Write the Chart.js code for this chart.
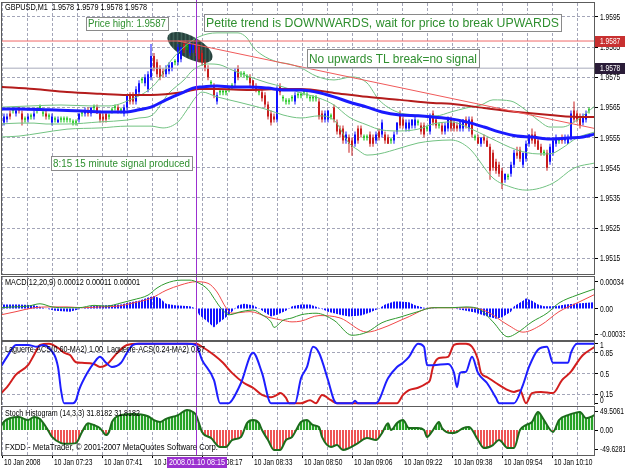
<!DOCTYPE html>
<html>
<head>
<meta charset="utf-8">
<title>GBPUSD,M1</title>
<script src="https://cdn.jsdelivr.net/npm/chart.js@4.4.1/dist/chart.umd.min.js"></script>
<style>
  html, body { margin: 0; padding: 0; background: #fff; }
  #wrap { position: relative; width: 625px; height: 469px; overflow: hidden; background: #fff; }
  #wrap canvas { position: absolute; left: 0; }
</style>
</head>
<body>
<div id="wrap">
  <canvas id="priceChart" width="625" height="276" style="top:0"></canvas>
  <canvas id="macdChart" width="625" height="66" style="top:275px"></canvas>
  <canvas id="lagChart" width="625" height="64" style="top:341px"></canvas>
  <canvas id="stochChart" width="625" height="64" style="top:405px"></canvas>
</div>
<script>
// ---- data (1 minute bars, bar index 0 = left edge) ----
const timeLabels = ['10 Jan 2008', '10 Jan 07:23', '10 Jan 07:41', '10 Jan 07:58', '10 Jan 08:17', '10 Jan 08:33',
  '10 Jan 08:50', '10 Jan 09:06', '10 Jan 09:22', '10 Jan 09:38', '10 Jan 09:54', '10 Jan 10:10'];
const signalBar = 64;
const signalLabel = '2008.01.10 08:15';

const priceLevels = [1.9515, 1.9525, 1.9535, 1.9545, 1.9555, 1.9565, 1.9575, 1.9585, 1.9595];
const macdLevels = [-0.00033, 0, 0.00034];
const lagLevels = [0, 0.15, 0.5, 0.85, 1];
const stochLevels = [-49.6281, 0, 49.5061];
const priceHigh = 1.9587;
const bidPrice = 1.9578;

const open = [1.9560,1.9561,1.9563,1.9564,1.9563,1.9565,1.9563,1.9561,1.9561,1.9562,1.9562,1.9564,1.9565,1.9563,1.9563,1.9562,1.9560,1.9561,1.9560,1.9561,
  1.9561,1.9561,1.9561,1.9560,1.9560,1.9561,1.9563,1.9563,1.9564,1.9563,1.9565,1.9565,1.9563,1.9562,1.9563,1.9562,1.9564,1.9565,1.9565,1.9564,
  1.9563,1.9565,1.9569,1.9569,1.9567,1.9570,1.9574,1.9573,1.9571,1.9575,1.9582,1.9580,1.9578,1.9577,1.9576,1.9577,1.9578,1.9580,1.9580,1.9581,
  1.9586,1.9585,1.9583,1.9584,1.9586,1.9585,1.9583,1.9580,1.9578,1.9573,1.9572,1.9567,1.9570,1.9570,1.9570,1.9571,1.9572,1.9573,1.9578,1.9576,
  1.9576,1.9575,1.9575,1.9574,1.9572,1.9570,1.9570,1.9569,1.9566,1.9563,1.9562,1.9561,1.9572,1.9568,1.9567,1.9567,1.9568,1.9567,1.9569,1.9569,
  1.9570,1.9569,1.9568,1.9568,1.9568,1.9567,1.9563,1.9561,1.9561,1.9562,1.9565,1.9560,1.9558,1.9558,1.9554,1.9555,1.9554,1.9553,1.9558,1.9558,
  1.9555,1.9555,1.9556,1.9555,1.9554,1.9557,1.9556,1.9556,1.9555,1.9554,1.9554,1.9557,1.9563,1.9561,1.9558,1.9558,1.9559,1.9559,1.9560,1.9559,
  1.9559,1.9558,1.9557,1.9563,1.9561,1.9559,1.9559,1.9557,1.9558,1.9561,1.9560,1.9559,1.9558,1.9558,1.9561,1.9558,1.9561,1.9555,1.9555,1.9553,
  1.9555,1.9554,1.9552,1.9550,1.9547,1.9546,1.9544,1.9541,1.9542,1.9543,1.9546,1.9550,1.9551,1.9546,1.9548,1.9553,1.9556,1.9556,1.9554,1.9552,
  1.9550,1.9550,1.9547,1.9550,1.9553,1.9554,1.9555,1.9554,1.9553,1.9555,1.9564,1.9563,1.9562,1.9560,1.9561,1.9564];
const high = [1.9563,1.9563,1.9564,1.9565,1.9565,1.9565,1.9564,1.9562,1.9563,1.9563,1.9564,1.9565,1.9566,1.9564,1.9564,1.9563,1.9563,1.9562,1.9562,1.9562,
  1.9562,1.9562,1.9561,1.9561,1.9561,1.9563,1.9564,1.9565,1.9565,1.9565,1.9566,1.9566,1.9564,1.9563,1.9563,1.9563,1.9565,1.9566,1.9566,1.9565,
  1.9566,1.9569,1.9570,1.9570,1.9572,1.9574,1.9575,1.9576,1.9577,1.9586,1.9583,1.9581,1.9579,1.9578,1.9579,1.9580,1.9580,1.9581,1.9586,1.9585,
  1.9587,1.9586,1.9587,1.9586,1.9587,1.9586,1.9584,1.9581,1.9579,1.9574,1.9573,1.9570,1.9571,1.9571,1.9571,1.9572,1.9573,1.9578,1.9579,1.9577,
  1.9577,1.9576,1.9576,1.9574,1.9573,1.9571,1.9571,1.9570,1.9567,1.9564,1.9563,1.9572,1.9573,1.9569,1.9568,1.9568,1.9569,1.9570,1.9570,1.9570,
  1.9571,1.9570,1.9569,1.9569,1.9569,1.9568,1.9564,1.9564,1.9564,1.9563,1.9566,1.9561,1.9559,1.9559,1.9557,1.9556,1.9555,1.9557,1.9559,1.9559,
  1.9556,1.9556,1.9557,1.9556,1.9557,1.9558,1.9561,1.9557,1.9556,1.9555,1.9557,1.9560,1.9564,1.9562,1.9561,1.9561,1.9561,1.9562,1.9561,1.9560,
  1.9560,1.9559,1.9563,1.9564,1.9562,1.9560,1.9560,1.9560,1.9562,1.9562,1.9561,1.9560,1.9561,1.9561,1.9562,1.9562,1.9562,1.9556,1.9556,1.9555,
  1.9556,1.9555,1.9553,1.9551,1.9548,1.9547,1.9545,1.9543,1.9543,1.9547,1.9551,1.9552,1.9552,1.9550,1.9554,1.9556,1.9558,1.9557,1.9555,1.9553,
  1.9551,1.9551,1.9553,1.9555,1.9556,1.9555,1.9556,1.9556,1.9556,1.9564,1.9567,1.9564,1.9563,1.9563,1.9564,1.9565];
const low = [1.9559,1.9560,1.9561,1.9563,1.9562,1.9563,1.9559,1.9560,1.9560,1.9561,1.9561,1.9563,1.9564,1.9562,1.9561,1.9561,1.9559,1.9560,1.9560,1.9560,
  1.9560,1.9560,1.9560,1.9559,1.9559,1.9560,1.9562,1.9562,1.9562,1.9562,1.9564,1.9563,1.9560,1.9560,1.9560,1.9561,1.9563,1.9564,1.9563,1.9563,
  1.9562,1.9564,1.9566,1.9566,1.9566,1.9569,1.9573,1.9572,1.9570,1.9574,1.9577,1.9575,1.9574,1.9575,1.9575,1.9576,1.9577,1.9579,1.9579,1.9580,
  1.9583,1.9584,1.9582,1.9583,1.9582,1.9580,1.9579,1.9577,1.9574,1.9572,1.9568,1.9566,1.9569,1.9569,1.9569,1.9570,1.9571,1.9572,1.9574,1.9575,
  1.9575,1.9574,1.9572,1.9571,1.9570,1.9569,1.9567,1.9565,1.9561,1.9559,1.9560,1.9560,1.9569,1.9567,1.9566,1.9566,1.9567,1.9566,1.9568,1.9568,
  1.9569,1.9568,1.9567,1.9567,1.9567,1.9561,1.9560,1.9560,1.9560,1.9561,1.9560,1.9556,1.9555,1.9553,1.9553,1.9550,1.9549,1.9552,1.9553,1.9555,
  1.9554,1.9554,1.9552,1.9552,1.9553,1.9554,1.9555,1.9553,1.9553,1.9553,1.9553,1.9556,1.9558,1.9558,1.9557,1.9557,1.9558,1.9558,1.9559,1.9556,
  1.9555,1.9557,1.9556,1.9559,1.9558,1.9558,1.9556,1.9556,1.9557,1.9557,1.9557,1.9557,1.9557,1.9557,1.9558,1.9557,1.9555,1.9554,1.9553,1.9552,
  1.9553,1.9552,1.9541,1.9544,1.9543,1.9542,1.9538,1.9540,1.9541,1.9542,1.9545,1.9548,1.9547,1.9545,1.9547,1.9552,1.9553,1.9552,1.9551,1.9549,
  1.9549,1.9544,1.9546,1.9549,1.9552,1.9553,1.9553,1.9553,1.9553,1.9554,1.9560,1.9560,1.9558,1.9559,1.9560,1.9563];
const close = [1.9562,1.9562,1.9562,1.9564,1.9564,1.9564,1.9561,1.9561,1.9562,1.9562,1.9563,1.9564,1.9565,1.9563,1.9562,1.9562,1.9562,1.9561,1.9561,1.9561,
  1.9561,1.9561,1.9561,1.9560,1.9560,1.9563,1.9563,1.9564,1.9563,1.9565,1.9565,1.9563,1.9561,1.9561,1.9561,1.9562,1.9564,1.9565,1.9564,1.9564,
  1.9565,1.9569,1.9567,1.9567,1.9571,1.9573,1.9574,1.9575,1.9576,1.9582,1.9578,1.9576,1.9575,1.9576,1.9578,1.9579,1.9580,1.9580,1.9585,1.9585,
  1.9584,1.9585,1.9586,1.9586,1.9583,1.9581,1.9580,1.9578,1.9575,1.9573,1.9569,1.9569,1.9570,1.9570,1.9570,1.9571,1.9572,1.9577,1.9575,1.9576,
  1.9576,1.9575,1.9573,1.9572,1.9571,1.9570,1.9568,1.9566,1.9562,1.9560,1.9561,1.9571,1.9570,1.9568,1.9567,1.9567,1.9568,1.9569,1.9569,1.9569,
  1.9570,1.9569,1.9568,1.9568,1.9568,1.9562,1.9561,1.9563,1.9564,1.9562,1.9561,1.9557,1.9556,1.9554,1.9556,1.9553,1.9552,1.9556,1.9554,1.9556,
  1.9555,1.9555,1.9553,1.9553,1.9556,1.9555,1.9560,1.9554,1.9553,1.9554,1.9556,1.9560,1.9559,1.9559,1.9560,1.9560,1.9561,1.9561,1.9560,1.9557,
  1.9556,1.9558,1.9562,1.9560,1.9559,1.9559,1.9557,1.9559,1.9561,1.9558,1.9558,1.9558,1.9560,1.9561,1.9559,1.9561,1.9556,1.9555,1.9553,1.9555,
  1.9554,1.9552,1.9544,1.9545,1.9544,1.9543,1.9540,1.9543,1.9542,1.9546,1.9550,1.9549,1.9548,1.9550,1.9553,1.9556,1.9554,1.9553,1.9551,1.9550,
  1.9550,1.9545,1.9552,1.9554,1.9555,1.9554,1.9554,1.9555,1.9555,1.9563,1.9561,1.9561,1.9559,1.9562,1.9563,1.9564];

// indicator lines, [bar, value]
const maFast = [[-1,1.95645],[5,1.95645],[15,1.95642],[26,1.95638],[35,1.95635],[41,1.95635],[45,1.95642],[49,1.95651],[54,1.95675],[60,1.95701],
  [63,1.95714],[66,1.95718],[71,1.95721],[76,1.95718],[82,1.95718],[88,1.95714],[93,1.95708],[99,1.95708],[104,1.95701],[110,1.95685],[115,1.95668],
  [121,1.95651],[126,1.95635],[132,1.95625],[138,1.95622],[143,1.95618],[149,1.95612],[154,1.95602],[160,1.95585],[165,1.95569],[171,1.95555],
  [176,1.95552],[182,1.95545],[188,1.95549],[193,1.95552],[197,1.95562]];
const maSlow = [[-1,1.95718],[10,1.95711],[21,1.95701],[32,1.95695],[41,1.95691],[49,1.95691],[60,1.95701],[65,1.95711],[71,1.95711],[82,1.95708],
  [93,1.95711],[99,1.95711],[110,1.95698],[121,1.95685],[132,1.95675],[143,1.95665],[149,1.95662],[160,1.95648],[171,1.95635],[182,1.95625],
  [193,1.95618],[197,1.95618]];
const bbUpper = [[-1,1.95651],[9,1.95655],[19,1.95658],[29,1.95655],[35,1.95655],[42,1.95675],[49,1.95714],[52,1.95748],[55,1.95797],[60,1.95850],
  [65,1.95884],[71,1.95897],[78,1.95897],[81,1.95880],[83,1.95850],[86,1.95824],[91,1.95801],[95,1.95794],[99,1.95781],[104,1.95754],[110,1.95741],
  [116,1.95751],[121,1.95731],[125,1.95675],[131,1.95635],[137,1.95625],[144,1.95622],[149,1.95635],[154,1.95648],[159,1.95658],[163,1.95675],
  [169,1.95671],[173,1.95648],[178,1.95608],[182,1.95585],[186,1.95585],[191,1.95608],[197,1.95655]];
const bbMiddle = [[-1,1.95595],[5,1.95598],[10,1.95598],[14,1.95595],[21,1.95595],[32,1.95602],[41,1.95608],[45,1.95615],[49,1.95622],[55,1.95698],
  [60,1.95741],[63,1.95774],[68,1.95794],[72,1.95791],[76,1.95774],[82,1.95751],[88,1.95731],[93,1.95718],[99,1.95698],[105,1.95681],[110,1.95658],
  [115,1.95618],[121,1.95592],[126,1.95575],[132,1.95572],[138,1.95578],[143,1.95595],[149,1.95602],[155,1.95582],[162,1.95549],[171,1.95509],
  [178,1.95496],[182,1.95496],[186,1.95515],[191,1.95549],[197,1.95569]];
const bbLower = [[-1,1.95552],[5,1.95555],[12,1.95565],[21,1.95578],[32,1.95582],[41,1.95588],[49,1.95588],[53,1.95582],[58,1.95602],[61,1.95642],
  [64,1.95685],[66,1.95701],[71,1.95685],[78,1.95668],[82,1.95658],[88,1.95642],[93,1.95625],[99,1.95615],[105,1.95622],[110,1.95608],[115,1.95532],
  [118,1.95509],[121,1.95492],[125,1.95496],[132,1.95515],[138,1.95532],[143,1.95539],[149,1.95542],[155,1.95515],[163,1.95416],[169,1.95386],
  [174,1.95376],[183,1.95399],[190,1.95449],[197,1.95466]];
const trendLine = [[58,1.9587],[197,1.9558]];

const macdMain = [[-1,0.00001],[3,0.00002],[8,0.00003],[12,0.00006],[16,0.00002],[21,0.00001],[25,0.00001],[30,0.00004],[34,0.00003],[39,0.00007],
  [43,0.00011],[48,0.00017],[51,0.00026],[54,0.00032],[59,0.00036],[62,0.00036],[64,0.00034],[68,0.00024],[70,0.00013],[72,0.00002],[75,-0.00008],
  [79,-0.00004],[83,-0.00002],[86,-0.00008],[89,-0.00017],[90,-0.00024],[93,-0.00015],[96,-0.00012],[99,-0.00008],[104,-0.00006],[110,-0.00015],
  [116,-0.00034],[121,-0.0003],[126,-0.00018],[132,-0.00011],[138,-0.00004],[143,0.00001],[149,0.00001],[154,0.00002],[159,-0.00002],[163,-0.00017],
  [168,-0.00036],[171,-0.00031],[176,-0.00017],[181,-0.00006],[185,0.00007],[191,0.00017],[197,0.00025]];
const macdSignal = [[-1,-0.00008],[4,-0.00004],[10,0.00001],[15,0.00002],[21,0.00002],[26,0.00001],[32,0.00002],[38,0.00003],[43,0.00007],[49,0.00013],
  [54,0.00023],[59,0.0003],[64,0.00034],[68,0.00032],[71,0.00021],[74,0.00001],[76,-0.00006],[82,-0.00004],[88,-0.00011],[93,-0.00015],[96,-0.00017],
  [99,-0.00016],[105,-0.00009],[112,-0.00012],[121,-0.0003],[126,-0.00025],[134,-0.00012],[143,0.00001],[149,0.00001],[156,0.00001],[161,-0.00004],
  [168,-0.00021],[173,-0.0003],[179,-0.00021],[185,-0.00004],[191,0.00007],[197,0.00018]];
const macdHist = [[-1,0.00005],[5,0.00005],[10,0.00004],[14,0],[17,-0.00003],[22,-0.00004],[25,-0.00001],[29,0.00003],[34,0.00004],[39,0.00005],
  [42,0.00008],[45,0.0001],[48,0.00014],[50,0.00016],[52,0.00013],[54,0.00006],[57,0.00004],[62,0.00003],[64,0],[65,-0.00008],[68,-0.00017],
  [70,-0.00024],[71,-0.0002],[74,-0.00011],[76,-0.00004],[78,0.00004],[80,0.00006],[83,0.00004],[85,0],[87,-0.00005],[89,-0.0001],[91,-0.00008],
  [94,-0.00003],[96,0.00003],[99,0.00005],[102,0.00005],[105,0.00001],[108,-0.00004],[112,-0.00008],[115,-0.0001],[119,-0.00009],[122,-0.00005],
  [125,0],[127,0.00005],[130,0.00009],[132,0.00009],[135,0.00008],[137,0.00004],[140,0.00001],[145,0],[150,0],[154,-0.00003],[157,-0.00005],
  [160,-0.00009],[164,-0.00013],[166,-0.00011],[169,-0.00004],[170,0.00003],[173,0.0001],[174,0.00013],[176,0.0001],[178,0.00005],[180,0.00003],
  [184,0.00003],[187,0.00005],[190,0.00006],[197,0.00008]];

const lagFast = [[-1,0.62],[1,0.78],[4,0.98],[8,0.98],[11,0.95],[13,0.98],[15,0.93],[18,0.61],[19,0.22],[20,0],[23,0],[24,0.05],[25,0.22],[28,0.53],
  [30,0.68],[32,0.78],[34,0.68],[36,0.61],[39,0.68],[41,0.85],[43,0.98],[45,1],[61,1],[64,0.98],[66,0.73],[70,0.39],[72,0],[75,0],[76,0.05],[79,0.34],
  [83,0.85],[86,0.51],[89,0],[97,0],[99,0.42],[101,0.61],[103,0.95],[105,0.85],[108,0.39],[110,0.05],[111,0],[116,0],[117,0.04],[118,0],[124,0],
  [128,0.42],[131,0.61],[133,0.68],[135,0.78],[138,1],[140,0.95],[141,0.64],[143,0.64],[148,0.66],[150,0.51],[151,0.27],[152,0.51],[154,0.53],
  [156,0.78],[158,0.51],[161,0.34],[164,0.09],[165,0],[170,0],[173,0.31],[175,0.61],[178,0.9],[181,0.95],[183,0.68],[188,0.68],[189,0.85],[191,1],[197,1]];
const lagSlow = [[-1,0.17],[1,0.27],[4,0.48],[8,0.64],[10,0.81],[12,0.98],[15,1],[18,0.93],[20,0.85],[22,0.81],[24,0.69],[26,0.68],[30,0.66],[32,0.61],
  [34,0.64],[38,0.86],[41,0.98],[45,1],[64,1],[66,0.95],[70,0.81],[73,0.68],[76,0.51],[80,0.34],[83,0.26],[86,0.14],[89,0.1],[91,0.14],[92,0.17],
  [94,0.09],[95,0],[99,0],[102,0.05],[104,0],[106,0.14],[109,0.05],[111,0],[131,0],[133,0.14],[135,0.22],[138,0.26],[141,0.34],[142,0.39],[143,0.61],
  [145,0.76],[148,0.78],[150,0.98],[152,1],[154,1],[156,0.95],[158,0.73],[159,0.51],[161,0.44],[164,0.34],[168,0.22],[170,0.19],[172,0.22],[174,0],
  [176,0.17],[179,0.19],[183,0.17],[186,0.39],[189,0.53],[191,0.68],[193,0.81],[197,0.95]];

const stochHist = [[-1,10],[0,22],[2,31],[5,34],[8,26],[10,34],[12,29],[14,8],[15,-5],[16,-18],[19,-34],[21,-36],[24,-34],[26,-5],[28,18],[30,13],
  [32,5],[33,-5],[34,-13],[35,-5],[36,21],[39,39],[43,42],[48,36],[50,26],[52,21],[54,29],[58,39],[61,52],[63,47],[64,39],[65,18],[66,-5],[69,-21],
  [72,-44],[74,-44],[76,-26],[79,-18],[81,18],[83,26],[85,18],[86,0],[88,-26],[90,-52],[92,-52],[94,-26],[96,-18],[99,21],[101,26],[103,13],[105,8],
  [106,-18],[109,-44],[111,-39],[113,-52],[115,-47],[118,-34],[121,-21],[124,-26],[126,-8],[128,18],[129,0],[131,18],[133,26],[135,5],[138,5],
  [140,0],[141,-18],[143,0],[145,21],[146,5],[149,-8],[151,-5],[153,5],[155,8],[158,-26],[160,-47],[163,-39],[165,-26],[168,-47],[170,-47],[172,0],
  [174,13],[176,21],[178,47],[180,26],[183,-5],[185,26],[188,39],[190,44],[192,47],[194,31],[197,39]];

// ---- look ----
const X_MIN = -2 / 3, X_MAX = 590 / 3;   // 3 px per bar
const GRID = '#a3a5b8';
const SANS = '"Liberation Sans", Arial, sans-serif';
const BULL = '#1010ff', BEAR = '#c81e1e', DOJI = '#00c000';
const PURPLE = '#9b30d0';

const gridTicks = [];
for (let k = 0; k < 24; k++) gridTicks.push(X_MIN + k * 25 / 3);

const pts = arr => arr.map(([x, y]) => ({ x, y }));

function stripes(colors) {
  const c = document.createElement('canvas');
  c.width = colors.length; c.height = 1;
  const g = c.getContext('2d');
  colors.forEach((col, i) => { g.fillStyle = col; g.fillRect(i, 0, 1, 1); });
  return g.createPattern(c, 'repeat');
}

// text squeezed to a given width
function drawText(ctx, text, x, y, width, size, color) {
  ctx.save();
  ctx.font = size + 'px ' + SANS;
  const w = ctx.measureText(text).width;
  ctx.translate(x, y);
  ctx.scale(width / w, 1);
  ctx.fillStyle = color;
  ctx.textBaseline = 'middle';
  ctx.textAlign = 'left';
  ctx.fillText(text, 0, 0);
  ctx.restore();
}

// narrow terminal-like font for the axes
function drawNarrow(ctx, text, x, y, color) {
  ctx.save();
  ctx.font = '8.5px ' + SANS;
  ctx.translate(x, y);
  ctx.scale(0.78, 1);
  ctx.fillStyle = color || '#000';
  ctx.textBaseline = 'middle';
  ctx.textAlign = 'left';
  ctx.fillText(text, 0, 0);
  ctx.restore();
}

function yLabels(chart, levels, fmt) {
  const s = chart.scales.y;
  const h = chart.height;
  levels.forEach(v => {
    const py = Math.min(Math.max(Math.round(s.getPixelForValue(v)) + 0.5, 4.5), h - 4);
    drawNarrow(chart.ctx, fmt(v), 600, py);
  });
}

function drawFrame(chart) {
  const { ctx, chartArea: a } = chart;
  ctx.save();
  ctx.strokeStyle = '#5c5c5c';
  ctx.lineWidth = 1;
  ctx.strokeRect(a.left - 0.5, a.top - 0.5, a.right - a.left + 1, a.bottom - a.top + 1);
  ctx.restore();
}

function drawSignalLine(chart) {
  const { ctx, chartArea: a } = chart;
  const x = Math.round(chart.scales.x.getPixelForValue(signalBar)) + 0.5;
  ctx.save();
  ctx.strokeStyle = PURPLE;
  ctx.lineWidth = 1;
  ctx.beginPath();
  ctx.moveTo(x, 0);
  ctx.lineTo(x, a.bottom);
  ctx.stroke();
  ctx.restore();
}

function xScale(withTicks) {
  return {
    type: 'linear', min: X_MIN, max: X_MAX, offset: false,
    afterBuildTicks: s => { s.ticks = gridTicks.map(v => ({ value: v })); },
    afterFit: s => { s.height = withTicks ? 14 : 0; s.paddingLeft = 0; s.paddingRight = 0; },
    grid: { color: GRID, offset: false, drawTicks: withTicks, tickLength: 3,
      tickColor: c => (c.index % 2 ? 'rgba(0,0,0,0)' : '#000') },
    border: { display: false, dash: [3, 2] },
    ticks: { display: false }
  };
}

function yScale(min, max, levels, gridColor) {
  return {
    position: 'right', min, max,
    afterBuildTicks: s => { s.ticks = levels.map(v => ({ value: v })); },
    afterFit: s => { s.width = 31; s.paddingTop = 0; s.paddingBottom = 0; },
    grid: { color: gridColor, tickLength: 4, tickColor: '#000' },
    border: { display: false, dash: [3, 2] },
    ticks: { display: false }
  };
}

const line = (label, data, color, width, order, extra) => Object.assign({
  type: 'line', label, data: pts(data), borderColor: color, borderWidth: width,
  pointRadius: 0, cubicInterpolationMode: 'monotone', fill: false, order
}, extra || {});

const common = {
  responsive: false, devicePixelRatio: 1, animation: false, events: [],
  plugins: { legend: { display: false }, tooltip: { enabled: false } }
};

// ---- price window ----
const bars = open.map((o, i) => i);
const candleColor = open.map((o, i) => (close[i] > o ? BULL : close[i] < o ? BEAR : DOJI));

const notes = [
  { text: 'Price high: 1.9587', x: 86, y: 17, w: 82, h: 13, size: 10 },
  { text: 'Petite trend is DOWNWARDS, wait for price to break UPWARDS', x: 204, y: 14, w: 357, h: 17, size: 13.5 },
  { text: 'No upwards TL break=no signal', x: 307, y: 49, w: 172, h: 18, size: 13.5 },
  { text: '8:15 15 minute signal produced', x: 51, y: 156, w: 141, h: 14, size: 10.5 }
];

const priceOverlay = {
  id: 'priceOverlay',
  beforeDatasetsDraw(chart) {
    const { ctx, scales: { x, y } } = chart;
    // marked area around the price high
    ctx.save();
    ctx.beginPath();
    ctx.ellipse(x.getPixelForValue(62), y.getPixelForValue(1.95849), 25, 11, 0.5, 0, Math.PI * 2);
    ctx.fillStyle = stripes(['#2c4a45', '#3f6158', '#2c4a45', '#26403b']);
    ctx.fill();
    ctx.restore();
  },
  afterDraw(chart) {
    const { ctx, scales: { y } } = chart;
    drawSignalLine(chart);
    drawFrame(chart);
    yLabels(chart, priceLevels, v => v.toFixed(4));
    drawText(ctx, 'GBPUSD,M1  1.9578 1.9579 1.9578 1.9578', 5, 8, 142, 8.5, '#000');
    notes.forEach(n => {
      ctx.save();
      ctx.fillStyle = '#fff';
      ctx.fillRect(n.x, n.y, n.w, n.h);
      ctx.strokeStyle = '#8a8a8a';
      ctx.strokeRect(n.x + 0.5, n.y + 0.5, n.w, n.h);
      ctx.restore();
      drawText(ctx, n.text, n.x + 2, n.y + n.h / 2 + 1, n.w - 4, n.size, '#2f8f2f');
    });
    // price boxes on the axis
    [[priceHigh, '#c83030'], [bidPrice, '#2a1c38']].forEach(([p, col]) => {
      const py = Math.round(y.getPixelForValue(p));
      ctx.fillStyle = col;
      ctx.fillRect(595, py - 5, 30, 11);
      drawNarrow(ctx, p.toFixed(4), 600, py + 0.5, '#fff');
    });
  }
};

new Chart(document.getElementById('priceChart'), {
  type: 'bar',
  data: {
    datasets: [
      line('High', [[X_MIN, priceHigh], [X_MAX, priceHigh]], '#f06868', 1, 1, { cubicInterpolationMode: 'default' }),
      line('Bid', [[X_MIN, bidPrice], [X_MAX, bidPrice]], '#a8aabb', 1, 1, { cubicInterpolationMode: 'default' }),
      line('Trend line', trendLine, '#f05a5a', 1, 2, { cubicInterpolationMode: 'default' }),
      line('MA fast', maFast, '#1a1aff', 3, 3),
      line('MA slow', maSlow, '#b41c1c', 2, 4),
      line('BB upper', bbUpper, '#72c282', 1, 5),
      line('BB middle', bbMiddle, '#72c282', 1, 5),
      line('BB lower', bbLower, '#72c282', 1, 5),
      {
        type: 'bar', label: 'Body', order: 10, grouped: false,
        data: bars.map(i => ({ x: i, y: [open[i], close[i]] })),
        backgroundColor: candleColor, barThickness: 2, minBarLength: 1, inflateAmount: 0, borderWidth: 0
      },
      {
        type: 'bar', label: 'Wick', order: 11, grouped: false,
        data: bars.map(i => ({ x: i, y: [low[i], high[i]] })),
        backgroundColor: candleColor, barThickness: 1, inflateAmount: 0, borderWidth: 0
      }
    ]
  },
  options: Object.assign({}, common, {
    layout: { padding: { left: 2, top: 3, right: 0, bottom: 2 } },
    scales: {
      x: xScale(false),
      y: yScale(1.95098, 1.95996, priceLevels, GRID)
    }
  }),
  plugins: [priceOverlay]
});

// ---- MACD window ----
const blueBars = stripes(['#1414ff', '#1414ff', 'rgba(255,255,255,0)']);

new Chart(document.getElementById('macdChart'), {
  type: 'line',
  data: {
    datasets: [
      line('MACD', macdMain, '#2e9a2e', 1, 1),
      line('Signal', macdSignal, '#f04848', 1, 2),
      line('Histogram', macdHist, 'rgba(0,0,0,0)', 0, 3, {
        cubicInterpolationMode: 'default', fill: { target: { value: 0 }, above: blueBars, below: blueBars }
      })
    ]
  },
  options: Object.assign({}, common, {
    layout: { padding: { left: 2, top: 2, right: 0, bottom: 1 } },
    scales: {
      x: xScale(false),
      y: yScale(-0.0004, 0.0004, macdLevels, 'rgba(0,0,0,0)')
    }
  }),
  plugins: [{
    id: 'macdOverlay',
    afterDraw(chart) {
      drawSignalLine(chart);
      drawFrame(chart);
      yLabels(chart, macdLevels, v => (v === 0 ? '0.00' : v.toFixed(5)));
      drawText(chart.ctx, 'MACD(12,20,9) 0.00012 0.00011 0.00001', 5, 8, 135, 8.5, '#000');
    }
  }]
});

// ---- Laguerre window ----
new Chart(document.getElementById('lagChart'), {
  type: 'line',
  data: {
    datasets: [
      line('Laguerre 0.60', lagFast, '#1e1eff', 2, 1),
      line('Laguerre 0.24', lagSlow, '#d21e1e', 2, 2)
    ]
  },
  options: Object.assign({}, common, {
    layout: { padding: { left: 2, top: 1, right: 0, bottom: 0 } },
    scales: {
      x: xScale(false),
      y: yScale(-0.03, 1.03, lagLevels,
        c => ([0.15, 0.5, 0.85].includes(c.tick && c.tick.value) ? GRID : 'rgba(0,0,0,0)'))
    }
  }),
  plugins: [{
    id: 'lagOverlay',
    afterDraw(chart) {
      drawSignalLine(chart);
      drawFrame(chart);
      yLabels(chart, lagLevels, v => String(v));
      drawText(chart.ctx, 'Laguerre-ACS(0.60-MA2) 1.00  Laguerre-ACS(0.24-MA2) 0.87', 5, 9, 200, 8.5, '#000');
    }
  }]
});

// ---- Stoch histogram window ----
const greenBars = stripes(['#26a226', '#26a226', '#d4efd4']);
const redBars = stripes(['#ee5555', '#ee5555', '#ffffff']);

new Chart(document.getElementById('stochChart'), {
  type: 'line',
  data: {
    datasets: [
      line('Stoch Histogram', stochHist, '#1c6c1c', 2, 1, {
        fill: { target: { value: 0 }, above: greenBars, below: redBars }
      })
    ]
  },
  options: Object.assign({}, common, {
    layout: { padding: { left: 2, top: 2, right: 0, bottom: 0 } },
    scales: {
      x: xScale(true),
      y: yScale(-65, 60, stochLevels, 'rgba(0,0,0,0)')
    }
  }),
  plugins: [{
    id: 'stochOverlay',
    afterDraw(chart) {
      const { ctx, chartArea: a, scales: { x } } = chart;
      drawSignalLine(chart);
      drawFrame(chart);
      yLabels(chart, stochLevels, v => (v === 0 ? '0.00' : v.toFixed(4)));
      drawText(ctx, 'Stoch Histogram (14,3,3) 31.8182 31.8182', 5, 9, 135, 8.5, '#000');
      drawText(ctx, 'FXDD - MetaTrader, \u00a9 2001-2007 MetaQuotes Software Corp.', 5, 43, 213, 8.5, '#000');
      // time labels under every second grid line
      timeLabels.forEach((t, k) => {
        drawNarrow(ctx, t, Math.round(x.getPixelForValue(gridTicks[2 * k])) + 2, a.bottom + 8);
      });
      // time of the signal bar on the axis
      const sx = Math.round(x.getPixelForValue(signalBar));
      ctx.fillStyle = PURPLE;
      ctx.fillRect(sx - 29, 52, 60, 11);
      drawText(ctx, signalLabel, sx - 27, 58, 56, 8.5, '#fff');
    }
  }]
});
</script>
</body>
</html>
